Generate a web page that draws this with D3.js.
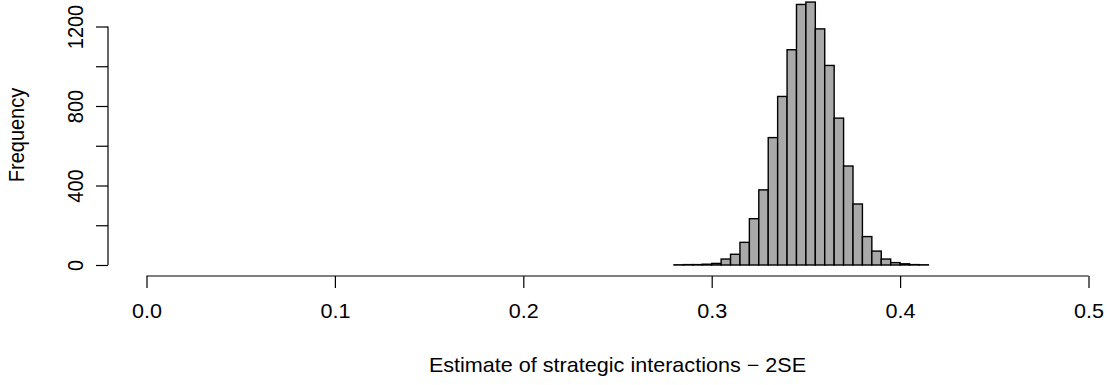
<!DOCTYPE html>
<html>
<head>
<meta charset="utf-8">
<script src="https://cdn.jsdelivr.net/npm/d3@7"></script>
<style>
  html, body { margin: 0; padding: 0; background: #fff; }
  svg { display: block; font-family: "Liberation Sans", Arial, Helvetica, sans-serif; }
</style>
</head>
<body>
<svg id="chart"></svg>
<script>
// histogram bin edges and counts
const breaks = [0.280, 0.285, 0.290, 0.295, 0.300, 0.305, 0.310, 0.315, 0.320, 0.325,
  0.330, 0.335, 0.340, 0.345, 0.350, 0.355, 0.360, 0.365, 0.370, 0.375,
  0.380, 0.385, 0.390, 0.395, 0.400, 0.405, 0.410, 0.415];
const counts = [1, 2, 2, 4, 8, 30, 54, 114, 233, 378,
  641, 848, 1083, 1311, 1323, 1188, 1004, 739, 498, 307,
  143, 70, 30, 12, 6, 2, 1];

const xTicks = [0, 0.1, 0.2, 0.3, 0.4, 0.5];
const yTicks = [0, 200, 400, 600, 800, 1000, 1200];
const yLabelled = [0, 400, 800, 1200];
const xTitle = 'Estimate of strategic interactions \u2212 2SE';
const yTitle = 'Frequency';

const width = 1110, height = 385;
const fontSize = 20;
const stretch = 1.08; // the picture is a bit wider than tall

const svg = d3.select('svg#chart')
  .attr('width', width)
  .attr('height', height);

const x = d3.scaleLinear().domain([0, 0.5]).range([146.5, 1088.5]);
const y = d3.scaleLinear().domain([0, 1200]).range([265, 26.5]);

// bars
const bins = counts.map((c, i) => ({x0: breaks[i], x1: breaks[i + 1], n: c}));
svg.append('g')
  .selectAll('rect')
  .data(bins)
  .join('rect')
  .attr('x', d => x(d.x0))
  .attr('y', d => y(d.n))
  .attr('width', d => x(d.x1) - x(d.x0))
  .attr('height', d => y(0) - y(d.n))
  .attr('fill', '#a9a9a9')
  .attr('stroke', '#000')
  .attr('stroke-width', 1.4);

// x axis, R style: line from first to last tick, offset below the plot
const xAxisY = 276;
const gx = svg.append('g')
  .attr('transform', 'translate(0,' + xAxisY + ')')
  .call(d3.axisBottom(x).tickValues(xTicks).tickSize(12).tickSizeOuter(0).tickPadding(16)
    .tickFormat(d3.format('.1f')));
gx.select('.domain').remove();
gx.append('line')
  .attr('x1', x(xTicks[0])).attr('x2', x(xTicks[xTicks.length - 1]))
  .attr('stroke', '#000');
gx.selectAll('line').attr('stroke', '#000').attr('stroke-width', 1.2);
gx.selectAll('text')
  .attr('fill', '#000')
  .attr('font-size', fontSize + 'px')
  .attr('font-family', '"Liberation Sans", Arial, Helvetica, sans-serif')
  .attr('transform', 'scale(' + stretch + ',1)');

// y axis
const yAxisX = 108;
const gy = svg.append('g')
  .attr('transform', 'translate(' + yAxisX + ',0)')
  .call(d3.axisLeft(y).tickValues(yTicks).tickSize(12).tickSizeOuter(0)
    .tickFormat(d => yLabelled.includes(d) ? d : ''));
gy.select('.domain').remove();
gy.append('line')
  .attr('y1', y(yTicks[0])).attr('y2', y(yTicks[yTicks.length - 1]))
  .attr('stroke', '#000');
gy.selectAll('line').attr('stroke', '#000').attr('stroke-width', 1.2);
gy.selectAll('.tick text')
  .attr('x', null).attr('dy', null)
  .attr('fill', '#000')
  .attr('font-size', fontSize + 'px')
  .attr('font-family', '"Liberation Sans", Arial, Helvetica, sans-serif')
  .attr('text-anchor', 'middle')
  .attr('transform', 'translate(-33,0) scale(' + stretch + ',1) rotate(-90)')
  .attr('dy', '0.35em');

// axis titles
svg.append('text')
  .attr('transform', 'translate(' + (x(0) + x(0.5)) / 2 + ',372) scale(' + stretch + ',1)')
  .attr('text-anchor', 'middle')
  .attr('font-size', fontSize + 'px')
  .text(xTitle);

svg.append('text')
  .attr('transform', 'translate(24,135) scale(' + stretch + ',1) rotate(-90)')
  .attr('text-anchor', 'middle')
  .attr('font-size', fontSize + 'px')
  .text(yTitle);
</script>
</body>
</html>
